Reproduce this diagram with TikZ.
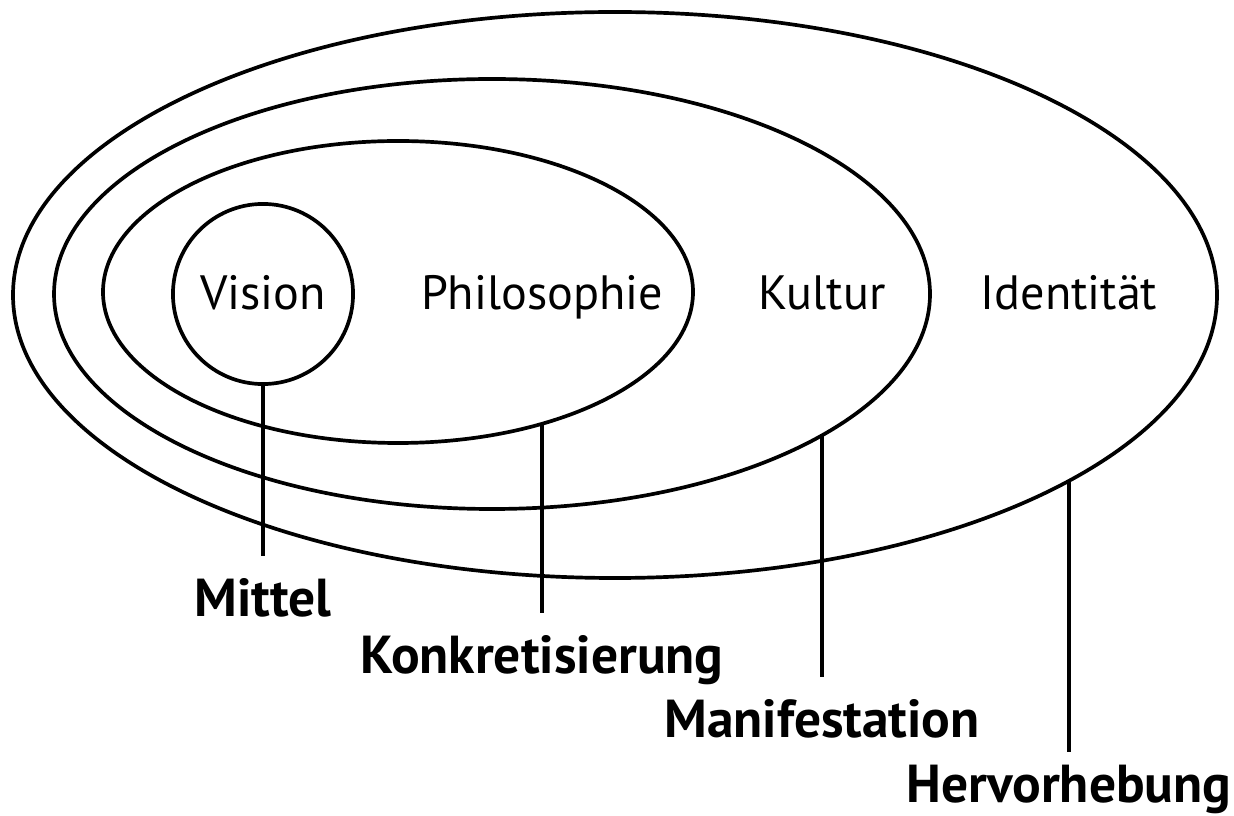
\documentclass[tikz,border=0pt]{standalone}
\usepackage{fontspec}
\setmainfont{PT Sans}
\tikzset{
  word/.style={font=\fontsize{13.7}{16}\selectfont, anchor=base, inner sep=0pt},
  tag/.style={font=\fontsize{15.2}{18}\selectfont\bfseries, anchor=north,
    text height=0.72em, text depth=0.22em, inner sep=9.5pt},
}

\begin{document}
\begin{tikzpicture}[x=0.01cm, y=-0.01cm, line width=1.05pt]
  \useasboundingbox (0,0) rectangle (1234,816);

  % Draw the rings, outside in
  \draw (615,295) ellipse [x radius=602, y radius=283];
  \draw (492,294) ellipse [x radius=438, y radius=215];
  \draw (398,292) ellipse [x radius=295, y radius=151];
  \node[draw, circle, minimum size=1.8cm, inner sep=0pt] (vision) at (263,294) {};
  \node[word] (visiontxt) at (263,310) {Vision};

  % Name the rings
  \node[word] (philo)  at (542,310)  {Philosophie};
  \node[word] (kultur) at (822,310)  {Kultur};
  \node[word] (ident)  at (1069,310) {Identität};

  % Where the lines leave the rings
  \coordinate (philo-rim)  at (542,424);
  \coordinate (kultur-rim) at (822,436);
  \coordinate (ident-rim)  at (1069,481);

  % Annotate below
  \node[tag] (mittel)  at (263,556)  {Mittel};
  \node[tag] (konkret) at (542,613)  {Konkretisierung};
  \node[tag] (manif)   at (822,677)  {Manifestation};
  \node[tag, inner sep=6.5pt] (hervor) at (1069,752) {Hervorhebung};

  \draw (vision) -- (mittel);
  \draw (philo-rim) -- (konkret);
  \draw (kultur-rim) -- (manif);
  \draw (ident-rim) -- (hervor);
\end{tikzpicture}
\end{document}
